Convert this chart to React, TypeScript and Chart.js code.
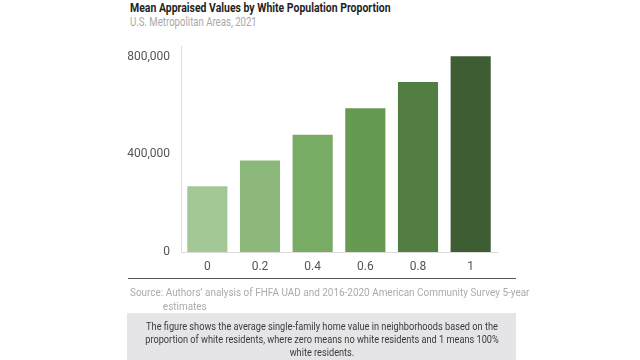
import React, { useEffect, useRef } from "react";
import { Chart, registerables } from "chart.js";

Chart.register(...registerables);

const categories = ["0", "0.2", "0.4", "0.6", "0.8", "1"];
const meanValues = [274000, 379000, 485000, 594000, 701000, 807000];
const barColors = ["#a3c795", "#8db87b", "#78ab64", "#669a51", "#527e44", "#3e5d33"];
const yTicks = [0, 400000, 800000];

const FONT = "'Roboto', sans-serif";
const TICK_FONT = "'Roboto', sans-serif";

export default function App() {
  const ref = useRef<HTMLCanvasElement | null>(null);

  useEffect(() => {
    document.body.style.margin = "0";
    const ctx = ref.current!;
    const chart = new Chart(ctx, {
      type: "bar",
      data: {
        labels: categories,
        datasets: [
          {
            data: meanValues,
            backgroundColor: barColors,
            borderColor: "rgba(255,255,255,0.5)",
            borderWidth: 1,
            categoryPercentage: 0.8,
            barPercentage: 1,
          },
        ],
      },
      options: {
        animation: false,
        responsive: false,
        maintainAspectRatio: false,
        layout: { padding: { left: 60, right: 143, top: 46, bottom: 12 } },
        plugins: { legend: { display: false }, tooltip: { enabled: false } },
        scales: {
          x: {
            grid: { display: false, drawTicks: false },
            border: { display: true, color: "#dcdcdc", width: 1 },
            ticks: { color: "#555", font: { family: TICK_FONT, size: 12 }, padding: 8 },
            afterFit: (s: any) => {
              s.height = 26;
            },
          },
          y: {
            min: 0,
            max: 845000,
            grid: { display: false, drawTicks: false },
            border: { display: true, color: "#dcdcdc", width: 1 },
            afterBuildTicks: (s: any) => {
              s.ticks = yTicks.map((v) => ({ value: v }));
            },
            ticks: {
              color: "#555",
              font: { family: TICK_FONT, size: 12 },
              padding: 11,
              callback: (v: any) => Number(v).toLocaleString("en-US"),
            },
            afterFit: (s: any) => {
              s.width = 121;
            },
          },
        },
      },
    });
    return () => chart.destroy();
  }, []);

  return (
    <div style={{ position: "fixed", left: 0, top: 0, width: 640, height: 360, background: "#fff", overflow: "hidden", fontFamily: FONT }}>
      <div style={{ position: "absolute", left: 130, top: 0, fontSize: 13, fontWeight: 700, color: "#1f1f1f", lineHeight: "16px", whiteSpace: "nowrap", transform: "scaleX(0.805)", transformOrigin: "left top" }}>
        Mean Appraised Values by White Population Proportion
      </div>
      <div style={{ position: "absolute", left: 130, top: 15, fontSize: 12, color: "#a8a8a8", lineHeight: "15px", whiteSpace: "nowrap", transform: "scaleX(0.8)", transformOrigin: "left top" }}>
        U.S. Metropolitan Areas, 2021
      </div>
      <canvas ref={ref} width={640} height={290} style={{ position: "absolute", left: 0, top: 0, width: 640, height: 290 }} />
      <div style={{ position: "absolute", left: 128, top: 278, width: 388, height: 1, background: "#555" }} />
      <div style={{ position: "absolute", left: 130, top: 285, fontSize: 11.5, color: "#ababab", lineHeight: "14px", whiteSpace: "nowrap", transform: "scaleX(0.865)", transformOrigin: "left top" }}>
        Source: Authors’ analysis of FHFA UAD and 2016-2020 American Community Survey 5-year
        <br />
        <span style={{ paddingLeft: 38 }}>estimates</span>
      </div>
      <div style={{ position: "absolute", left: 127, top: 313, width: 389, height: 60, background: "#e5e5e7" }}>
        <div style={{ position: "absolute", left: "50%", top: 7, textAlign: "center", fontSize: 11.5, color: "#3a3a3a", lineHeight: "13px", whiteSpace: "nowrap", transform: "translateX(-50%) scaleX(0.8)", transformOrigin: "center top" }}>
          The figure shows the average single-family home value in neighborhoods based on the
          <br />
          proportion of white residents, where zero means no white residents and 1 means 100%
          <br />
          white residents.
        </div>
      </div>
    </div>
  );
}
